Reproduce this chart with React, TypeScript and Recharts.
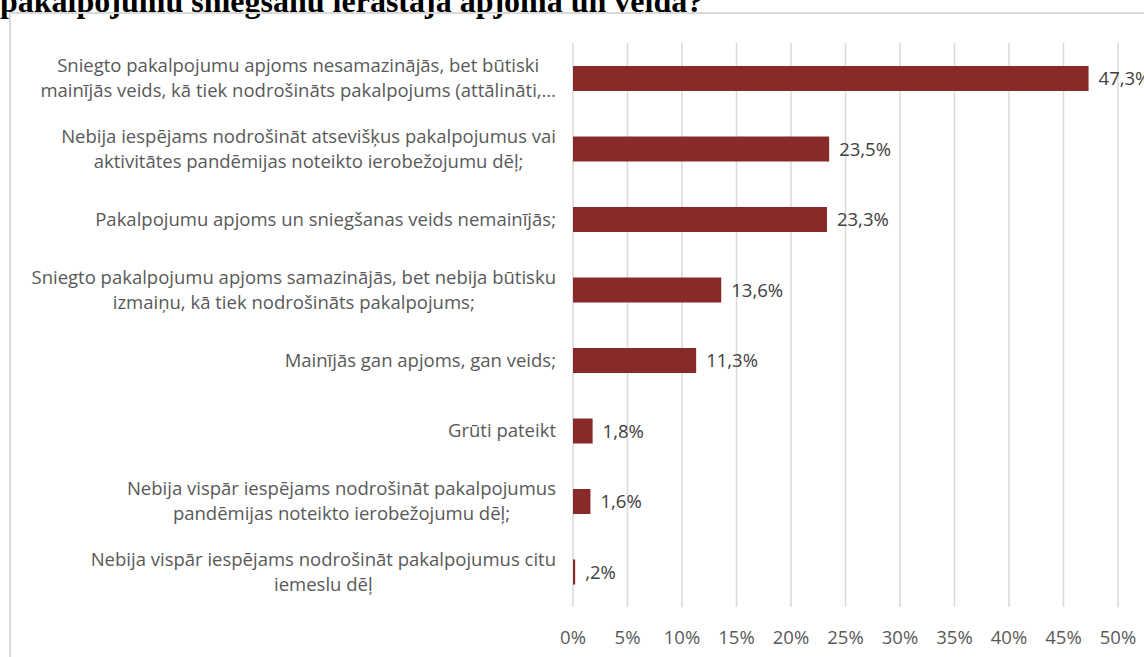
import React from "react";
import { BarChart, Bar, XAxis, YAxis, CartesianGrid, LabelList } from "recharts";

const categories: string[] = [
  "Sniegto pakalpojumu apjoms nesamazinājās, bet būtiski\nmainījās veids, kā tiek nodrošināts pakalpojums (attālināti,…",
  "Nebija iespējams nodrošināt atsevišķus pakalpojumus vai\naktivitātes pandēmijas noteikto ierobežojumu dēļ;",
  "Pakalpojumu apjoms un sniegšanas veids nemainījās;",
  "Sniegto pakalpojumu apjoms samazinājās, bet nebija būtisku\nizmaiņu, kā tiek nodrošināts pakalpojums;",
  "Mainījās gan apjoms, gan veids;",
  "Grūti pateikt",
  "Nebija vispār iespējams nodrošināt pakalpojumus\npandēmijas noteikto ierobežojumu dēļ;",
  "Nebija vispār iespējams nodrošināt pakalpojumus citu\niemeslu dēļ",
];
const values: number[] = [47.3, 23.5, 23.3, 13.6, 11.3, 1.8, 1.6, 0.2];
const xTicks: number[] = [0, 5, 10, 15, 20, 25, 30, 35, 40, 45, 50];
const titleText = "pakalpojumu sniegšanu ierastajā apjomā un veidā?";

const data = categories.map((c, i) => ({ name: c, value: values[i] }));

const FONT = "'Open Sans', sans-serif";
const FS = 18.5;

let measureCtx: CanvasRenderingContext2D | null = null;
const measure = (s: string) => {
  if (!measureCtx) {
    const c = document.createElement("canvas");
    measureCtx = c.getContext("2d");
  }
  if (!measureCtx) return s.length * FS * 0.5;
  measureCtx.font = `${FS}px 'Open Sans'`;
  return measureCtx.measureText(s).width;
};

const fmtValue = (v: any) => {
  let s = Number(v).toFixed(1).replace(".", ",");
  if (s.startsWith("0,")) s = s.slice(1);
  return s + "%";
};

const YTick = (props: any) => {
  const { x, y, payload } = props;
  const lines: string[] = String(payload.value).split("\n");
  const lh = 25;
  const start = y - ((lines.length - 1) * lh) / 2;
  const maxW = Math.max(...lines.map(measure));
  const cx = x - maxW / 2;
  return (
    <g>
      {lines.map((l, i) => (
        <text
          key={i}
          x={lines.length > 1 ? cx : x}
          y={start + i * lh}
          dy="0.35em"
          textAnchor={lines.length > 1 ? "middle" : "end"}
          fill="#595959"
          fontSize={FS}
          fontFamily={FONT}
        >
          {l}
        </text>
      ))}
    </g>
  );
};

export default function App() {
  return (
    <div style={{ position: "absolute", left: 0, top: 0, width: 1144, height: 657, overflow: "hidden", background: "#fff" }}>
      <div
        style={{
          position: "absolute",
          left: 0,
          top: -15,
          fontFamily: "'Liberation Serif', serif",
          fontWeight: "bold",
          fontSize: 32,
          lineHeight: "32px",
          color: "#000",
          whiteSpace: "nowrap",
        }}
      >
        {titleText}
      </div>
      <div
        style={{
          position: "absolute",
          left: 9,
          top: 12,
          width: 1200,
          height: 700,
          border: "2px solid #d9d9d9",
        }}
      />
      <div style={{ position: "absolute", left: 0, top: 0 }}>
        <BarChart
          width={1144}
          height={657}
          data={data}
          layout="vertical"
          margin={{ top: 43, right: 26, bottom: 20, left: 0 }}
          barSize={25}
        >
          <CartesianGrid horizontal={false} vertical={true} stroke="#d9d9d9" strokeWidth={1.5} />
          <XAxis
            type="number"
            domain={[0, 50]}
            ticks={xTicks}
            tickFormatter={(v: number) => `${v}%`}
            axisLine={false}
            tickLine={false}
            tickSize={0}
            tickMargin={24}
            height={30}
            interval={0}
            tick={{ fill: "#595959", fontSize: FS, fontFamily: FONT }}
          />
          <YAxis
            type="category"
            dataKey="name"
            width={573}
            axisLine={false}
            tickLine={false}
            tickSize={0}
            tickMargin={17}
            interval={0}
            tick={<YTick />}
          />
          <Bar dataKey="value" fill="#892A2A" isAnimationActive={false}>
            <LabelList
              dataKey="value"
              position="right"
              offset={10}
              formatter={fmtValue}
              fill="#404040"
              fontSize={FS}
              fontFamily={FONT}
            />
          </Bar>
        </BarChart>
      </div>
    </div>
  );
}
